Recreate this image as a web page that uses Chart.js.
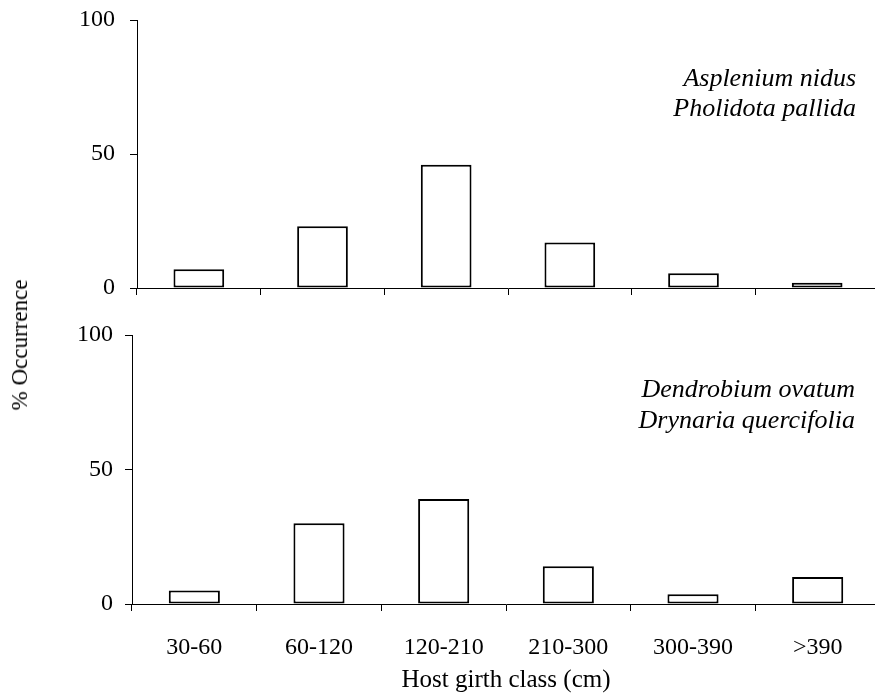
<!DOCTYPE html>
<html><head><meta charset="utf-8">
<script src="https://cdn.jsdelivr.net/npm/chart.js@4"></script>
<style>
html,body{margin:0;padding:0;background:#fff;overflow:hidden;width:875px;height:695px}
#wrap{position:relative;width:875px;height:695px;overflow:hidden;background:#fff}
canvas{position:absolute;left:0}
#c1{top:0}
#c2{top:315px}
#ytitle{position:absolute;left:20px;top:345px;transform:translate(-50%,-50%) rotate(-90deg);font-family:"Liberation Serif";font-size:23px;white-space:nowrap;color:#000}
</style></head><body>
<div id="wrap">
<canvas id="c1" width="900" height="310"></canvas>
<canvas id="c2" width="900" height="380"></canvas>
<div id="ytitle"></div>
</div>
<script>
// ---- data ----
const categories = ['30-60', '60-120', '120-210', '210-300', '300-390', '>390'];
const upperValues = [7, 23, 46, 17, 5.5, 2];
const lowerValues = [5, 30, 39, 14, 3.6, 10];
const yTicks = [0, 50, 100];
const upperSpecies = ['Asplenium nidus', 'Pholidota pallida'];
const lowerSpecies = ['Dendrobium ovatum', 'Drynaria quercifolia'];
const xTitle = 'Host girth class (cm)';
const yTitle = '% Occurrence';

document.getElementById('ytitle').textContent = yTitle;

const FONT = 'Liberation Serif';

const speciesPlugin = {
  id: 'speciesText',
  afterDraw(chart, args, opts) {
    if (!opts || !opts.lines) return;
    const ctx = chart.ctx;
    ctx.save();
    ctx.font = opts.font;
    ctx.fillStyle = '#000';
    ctx.textAlign = 'right';
    ctx.textBaseline = 'alphabetic';
    opts.lines.forEach((t, i) => ctx.fillText(t, opts.right, opts.baselines[i]));
    ctx.restore();
  }
};

function makeChart(id, values, cfg) {
  return new Chart(document.getElementById(id), {
    type: 'bar',
    data: {
      labels: categories,
      datasets: [{
        data: values,
        backgroundColor: '#ffffff',
        borderColor: '#000000',
        borderWidth: 2,
        borderSkipped: false,
        barPercentage: 0.41,
        categoryPercentage: 1.0
      }]
    },
    plugins: [speciesPlugin],
    options: {
      responsive: false,
      animation: false,
      events: [],
      layout: { padding: cfg.padding },
      plugins: {
        legend: { display: false },
        tooltip: { enabled: false },
        speciesText: cfg.species
      },
      scales: {
        x: {
          type: 'category',
          offset: true,
          grid: { display: true, drawOnChartArea: false, drawTicks: true, tickLength: 7, color: '#000', offset: true, lineWidth: 1 },
          border: { display: true, color: '#000', width: 1 },
          ticks: { display: cfg.showLabels, color: '#000', font: { family: FONT, size: 24 }, padding: 22, maxRotation: 0, autoSkip: false },
          title: { display: cfg.showLabels, text: xTitle, color: '#000', font: { family: FONT, size: 25 }, padding: { top: 0, bottom: 0 } },
          afterFit: a => { a.height = cfg.xHeight; a.paddingLeft = 0; a.paddingRight = 0; }
        },
        y: {
          min: 0, max: 100,
          afterBuildTicks: a => { a.ticks = yTicks.map(v => ({ value: v })); },
          grid: { drawOnChartArea: false, drawTicks: true, tickLength: 7, color: '#000' },
          border: { display: true, color: '#000', width: 1 },
          ticks: { color: '#000', font: { family: FONT, size: 24 }, padding: cfg.yPad },
          afterFit: a => { a.width = cfg.yWidth; a.paddingTop = 0; a.paddingBottom = 0; }
        }
      }
    }
  });
}

makeChart('c1', upperValues, {
  padding: { left: 0, top: 20, right: 21, bottom: 0 },
  xHeight: 22, yWidth: 137, yPad: 15, showLabels: false,
  species: { lines: upperSpecies, right: 856, baselines: [86, 116], font: 'italic 26px "Liberation Serif"' }
});
makeChart('c2', lowerValues, {
  padding: { left: 0, top: 20, right: 20, bottom: 0 },
  xHeight: 91, yWidth: 132, yPad: 12, showLabels: true,
  species: { lines: lowerSpecies, right: 855, baselines: [82, 113], font: 'italic 26px "Liberation Serif"' }
});
</script>
</body></html>
